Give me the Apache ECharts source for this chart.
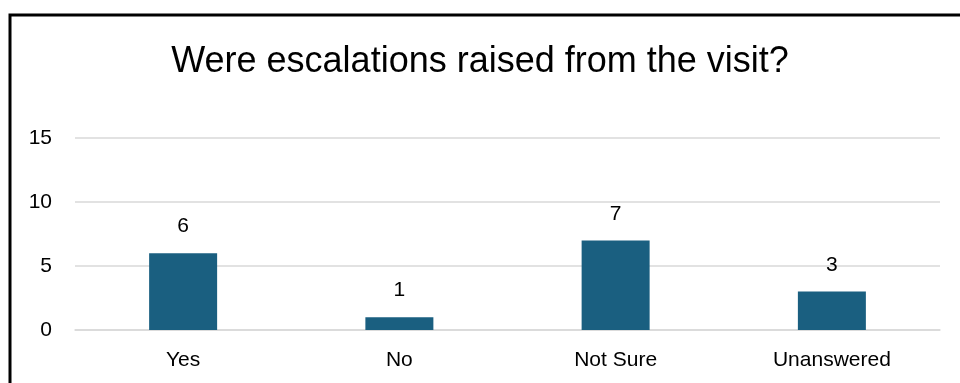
<!DOCTYPE html>
<html>
<head>
<meta charset="utf-8">
<script src="https://cdn.jsdelivr.net/npm/echarts@6/dist/echarts.min.js"></script>
<style>
  html, body { margin: 0; padding: 0; background: #fff; }
  #chart { width: 960px; height: 383px; }
</style>
</head>
<body>
<div id="chart"></div>
<script>
const categories = ['Yes', 'No', 'Not Sure', 'Unanswered'];
const counts = [6, 1, 7, 3];
const titleText = 'Were escalations raised from the visit?';

const chart = echarts.init(document.getElementById('chart'), null, { renderer: 'canvas' });
const font = 'Liberation Sans, Arial, sans-serif';

chart.setOption({
  animation: false,
  title: {
    text: titleText,
    left: 'center',
    top: 39,
    textStyle: { fontFamily: font, fontSize: 36, fontWeight: 'normal', color: '#000' }
  },
  graphic: [{
    type: 'rect',
    shape: { x: 10, y: 15, width: 990, height: 420 },
    style: { fill: 'none', stroke: '#000', lineWidth: 3 },
    silent: true
  }],
  grid: { left: 75, right: 20, top: 138, bottom: 53 },
  xAxis: {
    type: 'category',
    data: categories,
    axisLine: { show: true, lineStyle: { color: '#d9d9d9', width: 1.5 } },
    axisTick: { show: false },
    axisLabel: { fontFamily: font, fontSize: 21, color: '#000', margin: 20 }
  },
  yAxis: {
    type: 'value',
    min: 0,
    max: 15,
    interval: 5,
    axisLine: { show: false },
    axisTick: { show: false },
    splitLine: { lineStyle: { color: '#d9d9d9', width: 1.5 } },
    axisLabel: { fontFamily: font, fontSize: 21, color: '#000', margin: 23 }
  },
  series: [{
    type: 'bar',
    data: counts,
    barWidth: 68,
    itemStyle: { color: '#1a5f80' },
    label: {
      show: true,
      position: 'top',
      distance: 16,
      fontFamily: font,
      fontSize: 21,
      color: '#000'
    }
  }]
});
</script>
</body>
</html>
